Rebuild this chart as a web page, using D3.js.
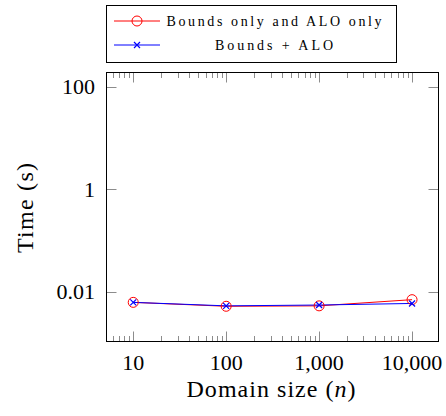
<!DOCTYPE html>
<meta charset="utf-8">
<style>
  body { margin: 0; background: #fff; }
  text { font-family: "Liberation Serif", "Times New Roman", serif; fill: #000; }
</style>
<svg width="446" height="416"></svg>
<script src="https://cdn.jsdelivr.net/npm/d3@7"></script>
<script>

var sizes = [10, 100, 1000, 10000],
    boundsOrAlo = [0.0062, 0.0052, 0.0053, 0.0070],
    boundsPlusAlo = [0.0062, 0.0053, 0.0055, 0.0059];

var xTicks = [10, 100, 1000, 10000],
    xTickLabels = ["10", "100", "1,000", "10,000"],
    yTicks = [100, 1, 0.01],
    yTickLabels = ["100", "1", "0.01"];

var seriesNames = ["Bounds only and ALO only", "Bounds + ALO"];

var svg = d3.select("svg"),
    pLeft = 106, pRight = 439, pTop = 72, pBottom = 342,
    grey = "#8c8c8c";

var x = d3.scaleLog()
    .domain([Math.pow(10, 0.707), Math.pow(10, 4.29)])
    .range([pLeft, pRight]);

var y = d3.scaleLog()
    .domain([Math.pow(10, -2.982), Math.pow(10, 2.293)])
    .range([pBottom, pTop]);

// minor + major ticks on x, inside frame, top and bottom
var minor = x.ticks().filter(function(d) { return xTicks.indexOf(d) < 0; });

var g = svg.append("g");

function tick(x1, y1, x2, y2) {
  g.append("line")
    .attr("x1", x1).attr("y1", y1).attr("x2", x2).attr("y2", y2)
    .attr("stroke", grey).attr("stroke-width", 1);
}

minor.forEach(function(d) {
  var px = Math.round(x(d)) + 0.5;
  tick(px, pTop, px, pTop + 6);
  tick(px, pBottom, px, pBottom - 6);
});
xTicks.forEach(function(d) {
  var px = Math.round(x(d)) + 0.5;
  tick(px, pTop, px, pTop + 10.5);
  tick(px, pBottom, px, pBottom - 10.5);
});
yTicks.forEach(function(d) {
  var py = Math.round(y(d)) + 0.5;
  tick(pLeft, py, pLeft + 10.5, py);
  tick(pRight, py, pRight - 10.5, py);
});

// frame
svg.append("rect")
  .attr("x", pLeft + 0.5).attr("y", pTop + 0.5)
  .attr("width", pRight - pLeft - 1).attr("height", pBottom - pTop - 1)
  .attr("fill", "none").attr("stroke", "#000").attr("stroke-width", 1);

// tick labels
svg.selectAll(".xl").data(xTicks).enter().append("text")
  .attr("x", function(d) { return x(d); })
  .attr("y", 369.5)
  .attr("text-anchor", "middle")
  .attr("font-size", 22)
  .text(function(d, i) { return xTickLabels[i]; });

svg.selectAll(".yl").data(yTicks).enter().append("text")
  .attr("x", 95)
  .attr("y", function(d) { return y(d) + 7.5; })
  .attr("text-anchor", "end")
  .attr("font-size", 22)
  .text(function(d, i) { return yTickLabels[i]; });

// axis labels
var xl = svg.append("text")
  .attr("x", 271).attr("y", 397)
  .attr("text-anchor", "middle")
  .attr("font-size", 24)
  .attr("textLength", 169)
  .attr("lengthAdjust", "spacing");
xl.append("tspan").text("Domain size (");
xl.append("tspan").attr("font-style", "italic").text("n");
xl.append("tspan").text(")");

svg.append("text")
  .attr("transform", "translate(33,208) rotate(-90)")
  .attr("text-anchor", "middle")
  .attr("font-size", 24)
  .attr("textLength", 90)
  .attr("lengthAdjust", "spacing")
  .text("Time (s)");

// series
var line = d3.line()
  .x(function(d) { return x(d[0]); })
  .y(function(d) { return y(d[1]); });

var redPts = d3.zip(sizes, boundsOrAlo),
    bluePts = d3.zip(sizes, boundsPlusAlo);

svg.append("path").datum(redPts)
  .attr("d", line).attr("fill", "none").attr("stroke", "red").attr("stroke-width", 1);
svg.append("path").datum(bluePts)
  .attr("d", line).attr("fill", "none").attr("stroke", "blue").attr("stroke-width", 1);

function circleMark(sel, cx, cy) {
  sel.append("circle").attr("cx", cx).attr("cy", cy).attr("r", 5)
    .attr("fill", "none").attr("stroke", "red").attr("stroke-width", 1);
}
function crossMark(sel, cx, cy) {
  var s = 3;
  sel.append("path")
    .attr("d", "M" + (cx - s) + "," + (cy - s) + "L" + (cx + s) + "," + (cy + s) +
               "M" + (cx - s) + "," + (cy + s) + "L" + (cx + s) + "," + (cy - s))
    .attr("stroke", "blue").attr("stroke-width", 1.2).attr("fill", "none");
}

redPts.forEach(function(d) { circleMark(svg, x(d[0]), y(d[1])); });
bluePts.forEach(function(d) { crossMark(svg, x(d[0]), y(d[1])); });

// legend
var leg = svg.append("g");
leg.append("rect")
  .attr("x", 106.5).attr("y", 5.5).attr("width", 290).attr("height", 57)
  .attr("fill", "#fff").attr("stroke", "#000").attr("stroke-width", 1);

var rows = [21, 45],
    textW = [215, 118];
seriesNames.forEach(function(name, i) {
  var cy = rows[i];
  leg.append("line")
    .attr("x1", 114).attr("x2", 160).attr("y1", cy).attr("y2", cy)
    .attr("stroke", i === 0 ? "red" : "blue").attr("stroke-width", 1);
  if (i === 0) circleMark(leg, 137, cy); else crossMark(leg, 137, cy);
  leg.append("text")
    .attr("x", 274).attr("y", cy + 4.5)
    .attr("text-anchor", "middle")
    .attr("font-size", 14)
    .attr("textLength", textW[i])
    .attr("lengthAdjust", "spacing")
    .text(name);
});

</script>
